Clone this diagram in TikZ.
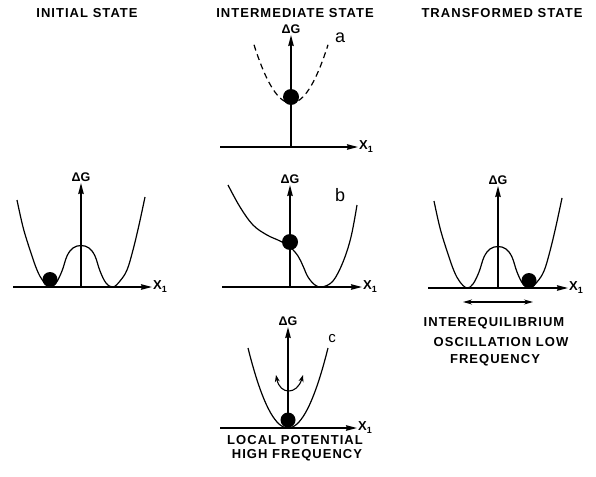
\documentclass[tikz,border=0pt]{standalone}
\usepackage{fontspec}
\setmainfont{Liberation Sans}
\newfontfamily\lettering[LetterSpace=8]{Liberation Sans}
\usetikzlibrary{arrows.meta}
\newcommand{\xone}{X\raisebox{-3pt}{\fontsize{9}{9}\selectfont 1}}
\tikzset{
  axis/.style={line width=1.4pt, -{Stealth[length=11pt,width=5.5pt,inset=1pt]}},
  well/.style={line width=1.2pt},
  ball/.style={circle, fill=black, inner sep=0pt, minimum size=15pt},
  title/.style={font=\lettering\bfseries\fontsize{13}{14}\selectfont},
  note/.style={font=\lettering\bfseries\fontsize{13}{14}\selectfont},
  dg/.style={font=\bfseries\fontsize{12.5}{13}\selectfont, above, inner sep=1pt},
  xlab/.style={font=\bfseries\fontsize{13}{14}\selectfont, right, inner sep=1pt},
  tag/.style={font=\fontsize{18}{19}\selectfont},
  pics/dwell/.style={code={
    \draw[well] plot[smooth, tension=0.6] coordinates {(-64,-87) (-58,-60) (-51,-37) (-44,-17)
      (-38,-6) (-31,0) (-25,-4) (-19,-16) (-14,-31) (-8,-39) (0,-41.5) (8,-39) (14,-31)
      (19,-16) (25,-4) (32,0) (39,-6) (46,-17) (52,-37) (58,-62) (64,-90)};
  }}
}

\begin{document}
\begin{tikzpicture}[x=1pt,y=-1pt]
\useasboundingbox (0,0) rectangle (596,476);
\node[title] (tinit) at (87,13) {INITIAL STATE};
\node[title] (tinter) at (295,13) {INTERMEDIATE STATE};
\node[title] (ttrans) at (502,13) {TRANSFORMED STATE};

\coordinate (ia0) at (81,287);
\coordinate (iax) at (152,287);
\coordinate (iay) at (81,183);
\pic at (ia0) {dwell};
\draw[axis] (13,287) -- (iax);
\draw[axis] (ia0) -- (iay);
\node[dg] (idg) at (iay) {ΔG};
\node[xlab] (ix) at (iax) {\xone};
\node[ball] (iball) at (50,279.5) {};

\coordinate (aa0) at (291,147);
\coordinate (aax) at (358,147);
\coordinate (aay) at (291,35);
\draw[well, dash pattern=on 6pt off 4pt] plot[domain=-37:37, samples=40] ({291+\x},{103-0.0425*\x*\x});
\draw[axis] (220,147) -- (aax);
\draw[axis] (aa0) -- (aay);
\node[dg] (adg) at (aay) {ΔG};
\node[xlab] (ax) at (aax) {\xone};
\node[ball, minimum size=16pt] (aball) at (291,97) {};
\node[tag] (atag) at (340,38) {a};

\coordinate (ba0) at (290,287);
\coordinate (bax) at (362,287);
\coordinate (bay) at (290,185);
\draw[well] plot[smooth, tension=0.6] coordinates {(228,185) (240,207) (253,225) (267,235)
  (280,241) (290,247) (298,256) (303,266) (308,277) (315,285) (322,287) (333,281)
  (343,262) (351,237) (357,205)};
\draw[axis] (222,287) -- (bax);
\draw[axis] (ba0) -- (bay);
\node[dg] (bdg) at (bay) {ΔG};
\node[xlab] (bx) at (bax) {\xone};
\node[ball, minimum size=16pt] (bball) at (290,242) {};
\node[tag] (btag) at (340,195) {b};

\coordinate (ca0) at (288,428);
\coordinate (cax) at (357,428);
\coordinate (cay) at (288,327);
\draw[well] plot[domain=-40:40, samples=40] ({288+\x},{428-0.05*\x*\x});
\draw[axis] (220,428) -- (cax);
\draw[axis] (ca0) -- (cay);
\node[dg] (cdg) at (cay) {ΔG};
\node[xlab] (cx) at (cax) {\xone};
\node[ball] (cball) at (288,420) {};
\node[tag, font=\fontsize{15}{16}\selectfont] (ctag) at (332,339) {c};
\coordinate (cl) at (276,375);
\coordinate (cr) at (303,375);
\draw[line width=1.1pt, {Stealth[length=7pt,width=5pt]}-{Stealth[length=7pt,width=5pt]}]
  (cl) .. controls (280,395) and (297,395) .. (cr);
\node[note] (lp1) at (295,440) {LOCAL POTENTIAL};
\node[note] (lp2) at (297,455) {HIGH FREQUENCY};

\coordinate (ta0) at (498,288);
\coordinate (tax) at (568,288);
\coordinate (tay) at (498,186);
\pic at (ta0) {dwell};
\draw[axis] (428,288) -- (tax);
\draw[axis] (ta0) -- (tay);
\node[dg] (tdg) at (tay) {ΔG};
\node[xlab] (tx) at (tax) {\xone};
\node[ball] (tball) at (529,280.5) {};
\coordinate (osl) at (463,302);
\coordinate (osr) at (533,302);
\draw[line width=1.1pt, {Stealth[length=9pt,width=5pt]}-{Stealth[length=9pt,width=5pt]}] (osl) -- (osr);
\node[note] (ie1) at (494,323) {INTEREQUILIBRIUM};
\node[note] (ie2) at (501,342) {OSCILLATION LOW};
\node[note] (ie3) at (495,360) {FREQUENCY};
\end{tikzpicture}
\end{document}
